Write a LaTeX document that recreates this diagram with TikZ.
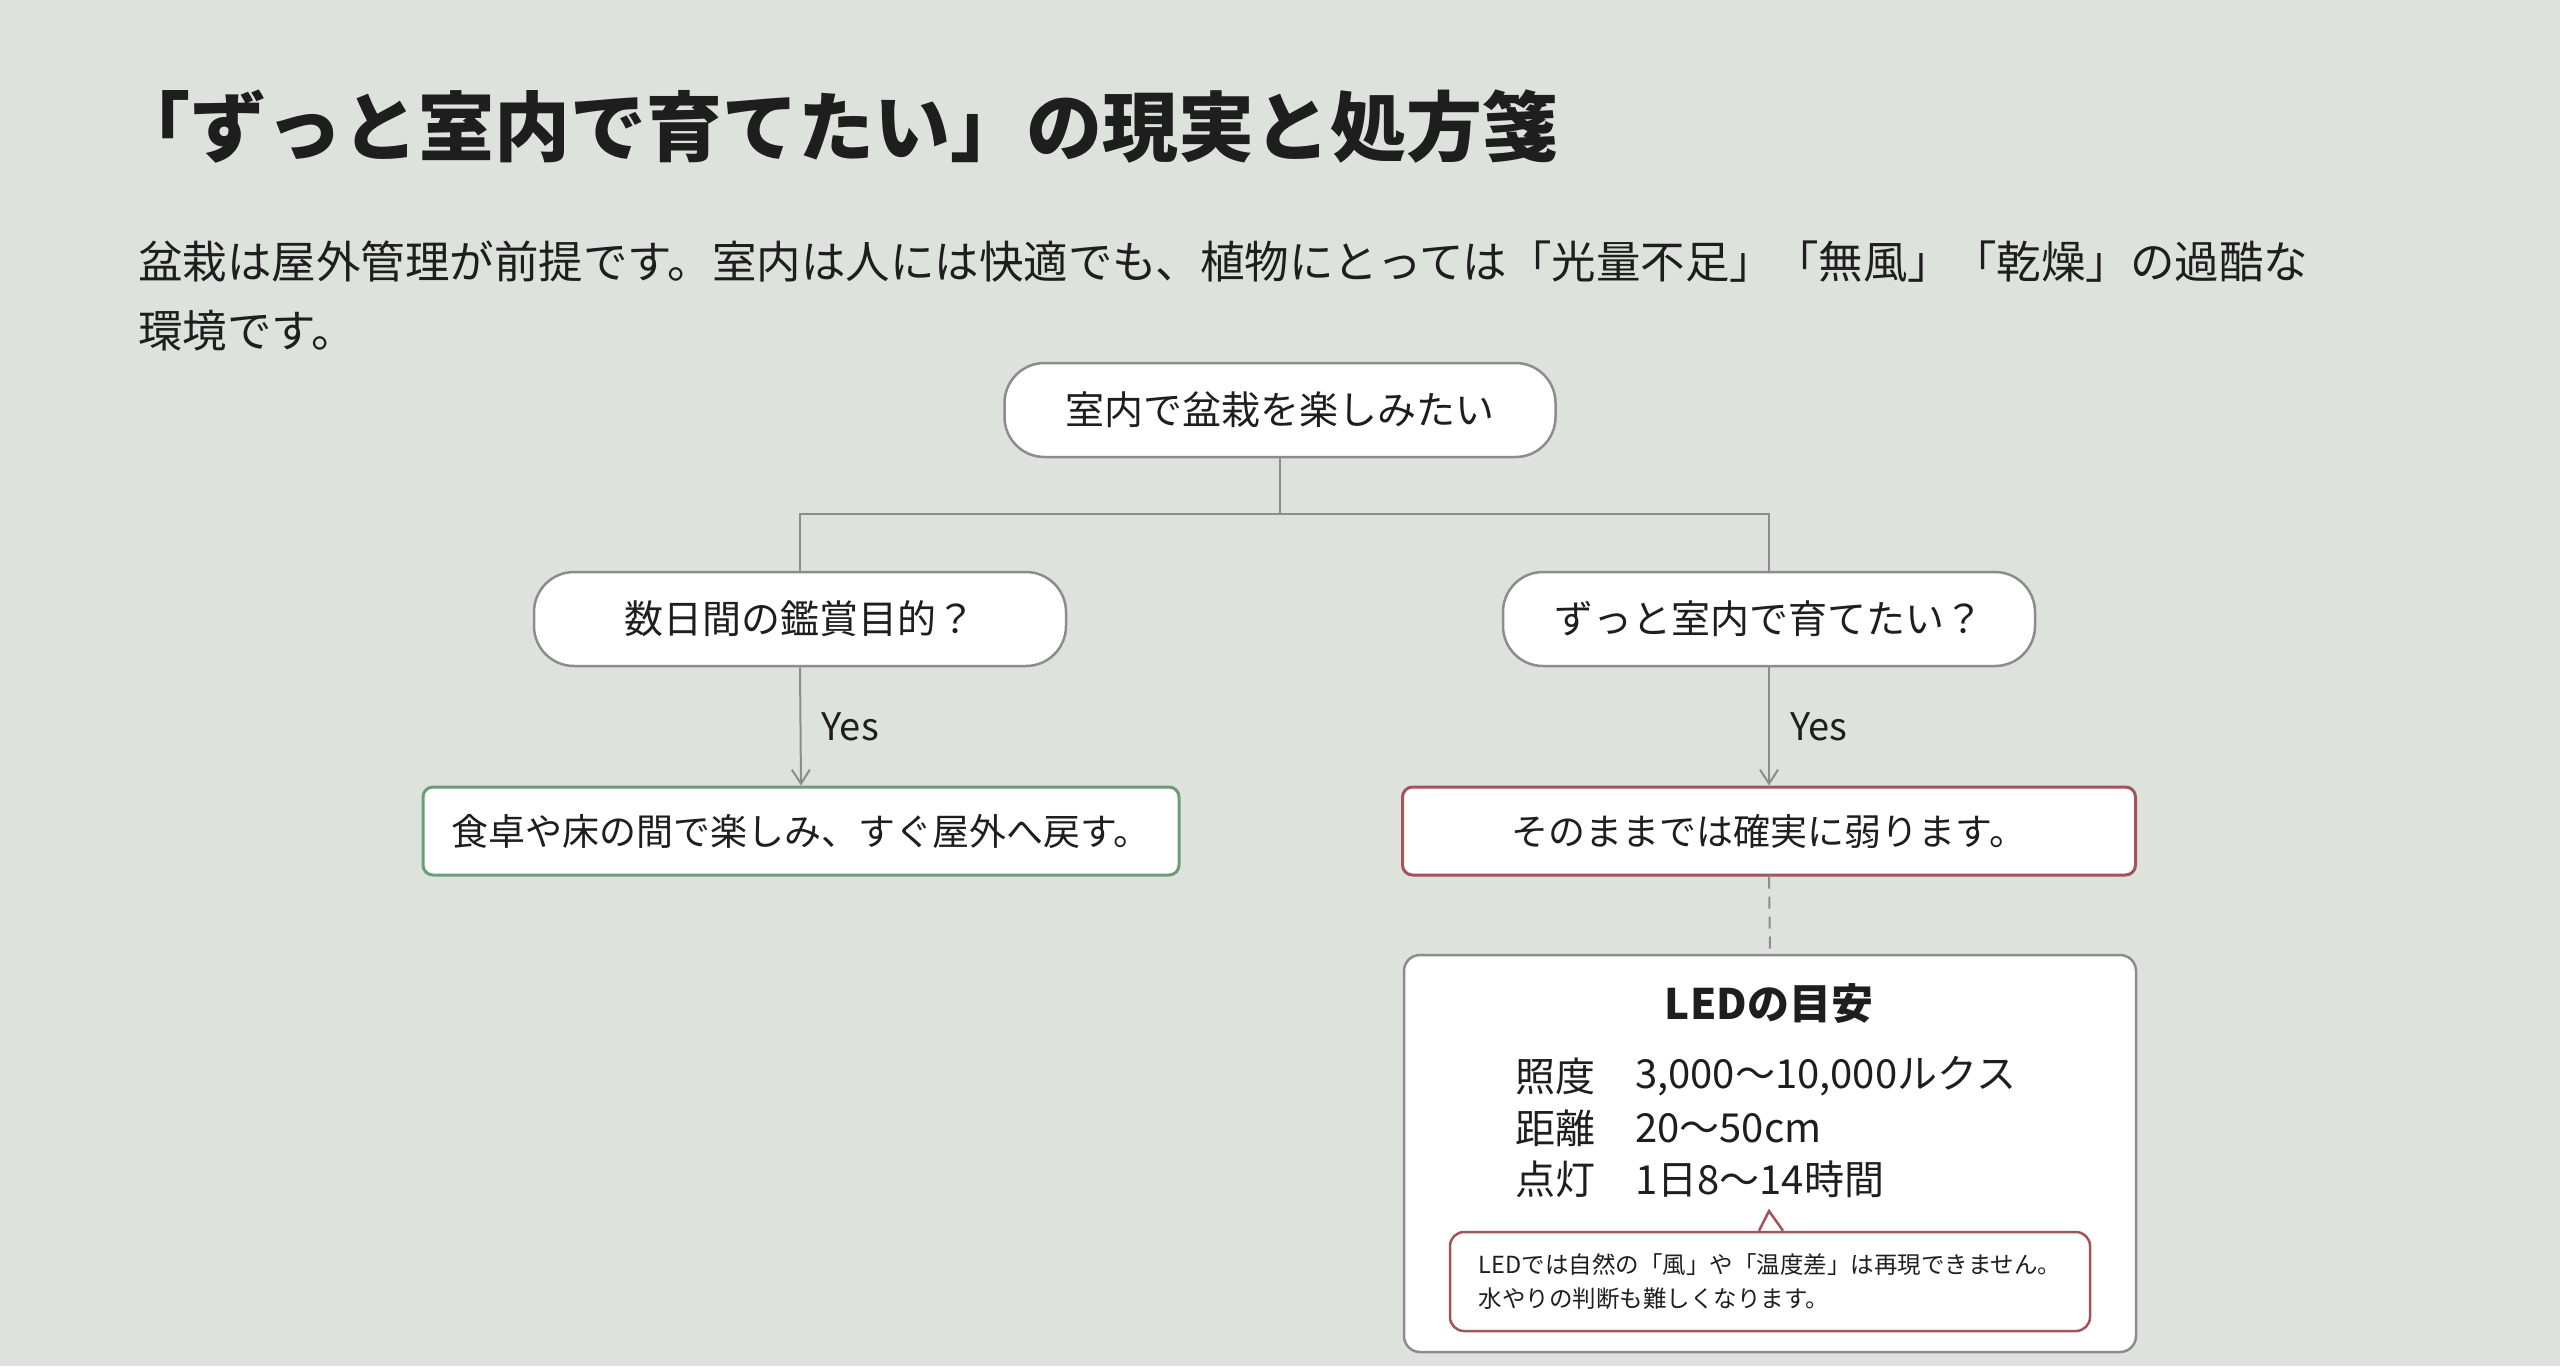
\documentclass[tikz,border=0pt]{standalone}
\usepackage{fontspec}
\setmainfont{Noto Sans CJK JP}
\usetikzlibrary{arrows.meta,positioning}
\definecolor{bgcol}{HTML}{DEE2DD}
\definecolor{inkcol}{HTML}{1E1E1E}
\definecolor{linecol}{HTML}{8C8C8C}
\definecolor{okcol}{HTML}{6A9E78}
\definecolor{ngcol}{HTML}{A3535A}
\begin{document}
\begin{tikzpicture}[x=1pt,y=-1pt,
  every node/.style={text=inkcol,inner sep=0pt},
  pill/.style={draw=linecol,line width=2.5pt,fill=white,rounded corners=40pt,
    minimum width=532pt,minimum height=94pt,font=\fontsize{39}{39}\selectfont},
  okbox/.style={draw=okcol,line width=3pt,fill=white,rounded corners=10pt,
    minimum width=756pt,minimum height=88pt,font=\fontsize{37}{37}\selectfont},
  ngbox/.style={draw=ngcol,line width=3pt,fill=white,rounded corners=10pt,
    minimum width=733pt,minimum height=88pt,font=\fontsize{37}{37}\selectfont},
  ledbox/.style={draw=linecol,line width=2.5pt,fill=white,rounded corners=16pt,
    minimum width=732pt,minimum height=397pt},
  note/.style={draw=ngcol,line width=2.5pt,fill=white,rounded corners=14pt,
    minimum width=640pt,minimum height=99pt,align=left,
    font=\fontsize{23.5}{34}\selectfont},
  row/.style={anchor=west,font=\fontsize{40}{40}\selectfont},
  link/.style={draw=linecol,line width=2pt},
  yes/.style={right=20pt,font=\fontsize{38}{38}\selectfont}]
\fill[bgcol] (0,0) rectangle (2560,1366);
\useasboundingbox (0,0) rectangle (2560,1366);
% heading
\node[anchor=west,font=\bfseries\fontsize{76}{76}\selectfont] (title) at (114,127)
  {「ずっと室内で育てたい」の現実と処方箋};
\node[anchor=west,align=left,font=\fontsize{44.5}{69}\selectfont] (lead) at (138,296)
  {盆栽は屋外管理が前提です。室内は人には快適でも、植物にとっては「光量不足」「無風」「乾燥」の過酷な\\環境です。};
% flow
\node[pill,minimum width=551pt] (want) at (1280,410) {室内で盆栽を楽しみたい};
\node[pill] (short) at (800,619) {数日間の鑑賞目的？};
\node[pill] (long) at (1769,619) {ずっと室内で育てたい？};
\node[okbox] (ok) at (801,831) {食卓や床の間で楽しみ、すぐ屋外へ戻す。};
\node[ngbox] (ng) at (1769,831) {そのままでは確実に弱ります。};
\coordinate (fork) at (1280,514);
\draw[link] (want.south) -- (fork);
\draw[link] (short.north) |- (fork) -| (long.north);
\draw[link,-{Straight Barb[length=14pt,width=18pt,line width=2pt]}]
  (short.south) -- node[yes] {Yes} (ok.north);
\draw[link,-{Straight Barb[length=14pt,width=18pt,line width=2pt]}]
  (long.south) -- node[yes] {Yes} (ng.north);
% LED box
\node[ledbox] (led) at (1770,1153.5) {};
\draw[link,dashed,dash pattern=on 12pt off 8pt] (ng.south) -- (led.north);
\node[font=\bfseries\fontsize{42}{42}\selectfont] (ledhead) at (1769,1004) {LEDの目安};
\node[row] (lux) at (1515,1076) {照度};
\node[row] (dist) at (1515,1128) {距離};
\node[row] (hours) at (1515,1179) {点灯};
\node[row] (luxval) at (1635,1076) {3,000〜10,000ルクス};
\node[row] (distval) at (1635,1128) {20〜50cm};
\node[row] (hoursval) at (1635,1179) {1日8〜14時間};
% note with pointer
\node[note] (warn) at (1770,1281.5)
  {LEDでは自然の「風」や「温度差」は再現できません。\\水やりの判断も難しくなります。};
\coordinate (tip) at (1769,1211);
\fill[white] ([xshift=-11pt,yshift=2pt]warn.north) -- (tip) -- ([xshift=13pt,yshift=2pt]warn.north) -- cycle;
\draw[ngcol,line width=2.5pt,line join=miter] ([xshift=-11pt]warn.north) -- (tip) -- ([xshift=13pt]warn.north);
\end{tikzpicture}
\end{document}
